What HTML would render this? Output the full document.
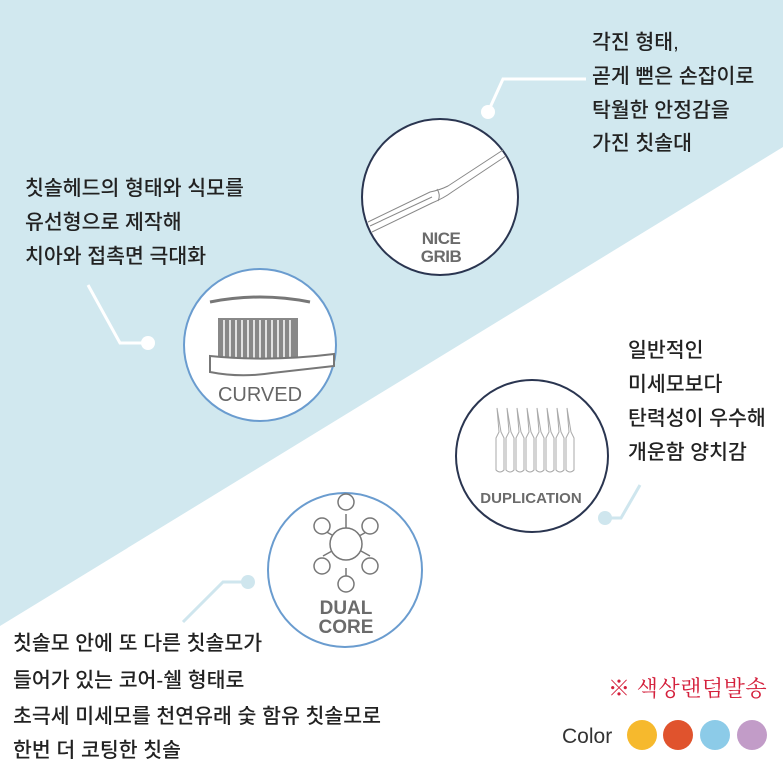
<!DOCTYPE html>
<html><head><meta charset="utf-8"><style>
html,body{margin:0;padding:0;background:#fff}
svg{display:block}
.k{font-family:"Liberation Sans","Noto Sans CJK KR",sans-serif;font-size:20.5px;font-weight:500;fill:#222}
.lab{font-family:"Liberation Sans",sans-serif;font-weight:bold;fill:#6b6b6b}
</style></head><body>
<svg width="783" height="777" viewBox="0 0 783 777" xmlns="http://www.w3.org/2000/svg">
<rect width="783" height="777" fill="#fff"/>
<polygon points="0,0 783,0 783,147 0,626" fill="#d1e8ef"/>

<g stroke="#fff" stroke-width="3" fill="none">
<polyline points="88,285 120,343 148,343"/>
<polyline points="488,112 503,79 586,79"/>
</g>
<circle cx="148" cy="343" r="7" fill="#fff"/>
<circle cx="488" cy="112" r="7" fill="#fff"/>
<g stroke="#cfe6ee" stroke-width="3" fill="none">
<polyline points="248,582 223,582 183,622"/>
<polyline points="605,518 621,518 640,485"/>
</g>
<circle cx="248" cy="582" r="7" fill="#cfe6ee"/>
<circle cx="605" cy="518" r="7" fill="#cfe6ee"/>

<!-- CURVED -->
<circle cx="260" cy="345" r="76" fill="#fff" stroke="#6a9ccf" stroke-width="2"/>
<path d="M210,302 Q260,292 310,302" stroke="#777" stroke-width="3" fill="none"/>
<rect x="218" y="318" width="80" height="42" fill="#888"/>
<g stroke="#fff" stroke-width="1.5">
<line x1="224" y1="320" x2="224" y2="360"/><line x1="230" y1="320" x2="230" y2="360"/><line x1="236" y1="320" x2="236" y2="360"/><line x1="242" y1="320" x2="242" y2="360"/><line x1="248" y1="320" x2="248" y2="360"/><line x1="254" y1="320" x2="254" y2="360"/><line x1="260" y1="320" x2="260" y2="360"/><line x1="266" y1="320" x2="266" y2="360"/><line x1="272" y1="320" x2="272" y2="360"/><line x1="278" y1="320" x2="278" y2="360"/><line x1="284" y1="320" x2="284" y2="360"/><line x1="290" y1="320" x2="290" y2="360"/>
</g>
<path d="M210,356 Q270,362 334,354 L334,366 Q290,371 272,373 Q240,378 210,372 Z" fill="#fff" stroke="#777" stroke-width="2"/>
<text x="260" y="401" text-anchor="middle" class="lab" style="font-size:20px;font-weight:normal;fill:#666">CURVED</text>

<!-- NICE GRIB -->
<circle cx="440" cy="197" r="78" fill="#fff" stroke="#2a3550" stroke-width="2"/>
<g stroke="#888" stroke-width="1" fill="none">
<path d="M368,222 L430,192 Q440,190 448,186 L503,150"/>
<path d="M372,232 L432,203 Q444,198 452,192 L506,156"/>
<path d="M370,226 L432,197"/>
<path d="M437,189 Q441,195 438,201"/>
</g>
<text x="441" y="244" text-anchor="middle" class="lab" style="font-size:17px;letter-spacing:-0.5px">NICE</text>
<text x="441" y="262" text-anchor="middle" class="lab" style="font-size:17px;letter-spacing:-0.5px">GRIB</text>

<!-- DUPLICATION -->
<circle cx="532" cy="456" r="76" fill="#fff" stroke="#2a3550" stroke-width="2"/>
<g stroke="#aaa" stroke-width="1" fill="none">
<path d="M497,408 L499,432 L496,438 L496,470 Q500,474 504,470 L504,438 L501,432 Z"/>
<path d="M507,408 L509,432 L506,438 L506,470 Q510,474 514,470 L514,438 L511,432 Z"/>
<path d="M517,408 L519,432 L516,438 L516,470 Q520,474 524,470 L524,438 L521,432 Z"/>
<path d="M527,408 L529,432 L526,438 L526,470 Q530,474 534,470 L534,438 L531,432 Z"/>
<path d="M537,408 L539,432 L536,438 L536,470 Q540,474 544,470 L544,438 L541,432 Z"/>
<path d="M547,408 L549,432 L546,438 L546,470 Q550,474 554,470 L554,438 L551,432 Z"/>
<path d="M557,408 L559,432 L556,438 L556,470 Q560,474 564,470 L564,438 L561,432 Z"/>
<path d="M567,408 L569,432 L566,438 L566,470 Q570,474 574,470 L574,438 L571,432 Z"/>
</g>
<text x="531" y="503" text-anchor="middle" class="lab" style="font-size:15px">DUPLICATION</text>

<!-- DUAL CORE -->
<circle cx="345" cy="570" r="77" fill="#fff" stroke="#6a9ccf" stroke-width="2"/>
<g stroke="#777" stroke-width="1.5" fill="#fff">
<line x1="346" y1="514" x2="346" y2="552"/><line x1="346" y1="568" x2="346" y2="576"/>
<line x1="323" y1="530" x2="370" y2="556"/><line x1="370" y1="530" x2="323" y2="556"/>
<circle cx="346" cy="502" r="8"/>
<circle cx="346" cy="584" r="8"/>
<circle cx="322" cy="526" r="8"/><circle cx="370" cy="526" r="8"/>
<circle cx="322" cy="566" r="8"/><circle cx="370" cy="566" r="8"/>
<circle cx="346" cy="544" r="16"/>
</g>
<text x="346" y="614" text-anchor="middle" class="lab" style="font-size:19px">DUAL</text>
<text x="346" y="633" text-anchor="middle" class="lab" style="font-size:19px">CORE</text>

<g class="k">
<text x="592" y="49">각진 형태,</text>
<text x="592" y="83">곧게 뻗은 손잡이로</text>
<text x="592" y="117">탁월한 안정감을</text>
<text x="592" y="150">가진 칫솔대</text>
<text x="25" y="195">칫솔헤드의 형태와 식모를</text>
<text x="25" y="229">유선형으로 제작해</text>
<text x="25" y="263">치아와 접촉면 극대화</text>
<text x="628" y="357">일반적인</text>
<text x="628" y="391">미세모보다</text>
<text x="628" y="425">탄력성이 우수해</text>
<text x="628" y="459">개운함 양치감</text>
<text x="13" y="650">칫솔모 안에 또 다른 칫솔모가</text>
<text x="13" y="687">들어가 있는 코어-쉘 형태로</text>
<text x="13" y="723">초극세 미세모를 천연유래 숯 함유 칫솔모로</text>
<text x="13" y="757">한번 더 코팅한 칫솔</text>
</g>
<text x="608" y="696" style="font-family:'Noto Serif CJK SC','Liberation Serif',serif;font-size:22px;letter-spacing:0.5px;fill:#d4203c">※ 색상랜덤발송</text>
<text x="562" y="743" style="font-family:'Liberation Sans',sans-serif;font-size:21px;fill:#333">Color</text>
<circle cx="642" cy="735" r="15" fill="#f6b92d"/>
<circle cx="678" cy="735" r="15" fill="#e0532d"/>
<circle cx="715" cy="735" r="15" fill="#8ccbe8"/>
<circle cx="752" cy="735" r="15" fill="#c29cc8"/>
</svg>
</body></html>
